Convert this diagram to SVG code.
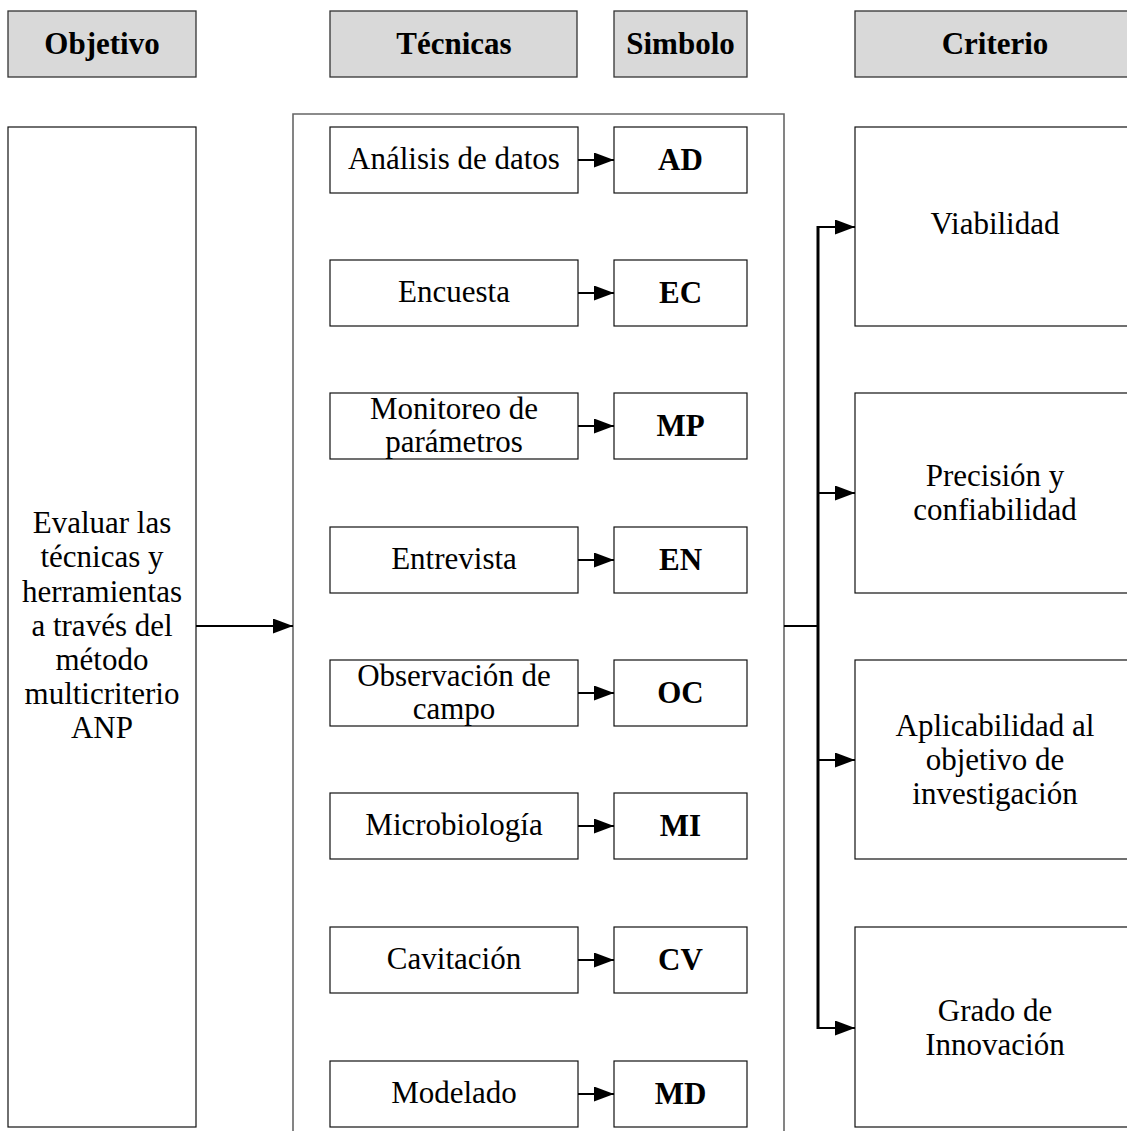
<svg xmlns="http://www.w3.org/2000/svg" width="1127" height="1131" viewBox="0 0 1127 1131">
  <style>
    .hdr { fill: #d9d9d9; stroke: #333; stroke-width: 1.3; }
    .box { fill: #ffffff; stroke: #111; stroke-width: 1.2; }
    .frame { fill: none; stroke: #666; stroke-width: 1.6; }
    text { font-family: "Liberation Serif", "Times New Roman", serif; font-size: 31px; fill: #000; text-anchor: middle; }
    .b { font-weight: bold; }
    .link { fill: none; stroke: #000; stroke-width: 2.2; }
    .bus { fill: none; stroke: #000; stroke-width: 3; }
  </style>
  <defs>
    <marker id="arrow" markerUnits="userSpaceOnUse" markerWidth="21" markerHeight="15" refX="20" refY="7.5" orient="auto">
      <path d="M0,0 L20,7.5 L0,15 Z" fill="#000"/>
    </marker>
  </defs>
  <rect width="1127" height="1131" fill="#fff"/>

  <!-- column headers -->
  <g id="hdr-objetivo"><rect class="hdr" x="8" y="11" width="188" height="66"/><text class="b" x="102" y="54">Objetivo</text></g>
  <g id="hdr-tecnicas"><rect class="hdr" x="330" y="11" width="247" height="66"/><text class="b" x="454" y="54">Técnicas</text></g>
  <g id="hdr-simbolo"><rect class="hdr" x="614" y="11" width="133" height="66"/><text class="b" x="680.5" y="54">Simbolo</text></g>
  <g id="hdr-criterio"><rect class="hdr" x="855" y="11" width="285" height="66"/><text class="b" x="995" y="54">Criterio</text></g>

  <!-- objective -->
  <g id="objetivo">
    <rect class="box" x="8" y="127" width="188" height="1000"/>
    <text x="102" y="533">Evaluar las</text>
    <text x="102" y="567">técnicas y</text>
    <text x="102" y="602">herramientas</text>
    <text x="102" y="636">a través del</text>
    <text x="102" y="670">método</text>
    <text x="102" y="704">multicriterio</text>
    <text x="102" y="738">ANP</text>
  </g>

  <!-- techniques frame -->
  <g id="tecnicas-frame"><path class="frame" d="M293,1135 V114 H784 V1135"/></g>

  <!-- techniques -->
  <g id="t-ad"><rect class="box" x="330" y="127" width="248" height="66"/><text x="454" y="169">Análisis de datos</text></g>
  <g id="t-ec"><rect class="box" x="330" y="260" width="248" height="66"/><text x="454" y="302">Encuesta</text></g>
  <g id="t-mp"><rect class="box" x="330" y="393" width="248" height="66"/><text x="454" y="419">Monitoreo de</text><text x="454" y="452">parámetros</text></g>
  <g id="t-en"><rect class="box" x="330" y="527" width="248" height="66"/><text x="454" y="569">Entrevista</text></g>
  <g id="t-oc"><rect class="box" x="330" y="660" width="248" height="66"/><text x="454" y="686">Observación de</text><text x="454" y="719">campo</text></g>
  <g id="t-mi"><rect class="box" x="330" y="793" width="248" height="66"/><text x="454" y="835">Microbiología</text></g>
  <g id="t-cv"><rect class="box" x="330" y="927" width="248" height="66"/><text x="454" y="969">Cavitación</text></g>
  <g id="t-md"><rect class="box" x="330" y="1061" width="248" height="66"/><text x="454" y="1103">Modelado</text></g>

  <!-- symbols -->
  <g id="s-ad"><rect class="box" x="614" y="127" width="133" height="66"/><text class="b" x="680.5" y="170">AD</text></g>
  <g id="s-ec"><rect class="box" x="614" y="260" width="133" height="66"/><text class="b" x="680.5" y="303">EC</text></g>
  <g id="s-mp"><rect class="box" x="614" y="393" width="133" height="66"/><text class="b" x="680.5" y="436">MP</text></g>
  <g id="s-en"><rect class="box" x="614" y="527" width="133" height="66"/><text class="b" x="680.5" y="570">EN</text></g>
  <g id="s-oc"><rect class="box" x="614" y="660" width="133" height="66"/><text class="b" x="680.5" y="703">OC</text></g>
  <g id="s-mi"><rect class="box" x="614" y="793" width="133" height="66"/><text class="b" x="680.5" y="836">MI</text></g>
  <g id="s-cv"><rect class="box" x="614" y="927" width="133" height="66"/><text class="b" x="680.5" y="970">CV</text></g>
  <g id="s-md"><rect class="box" x="614" y="1061" width="133" height="66"/><text class="b" x="680.5" y="1104">MD</text></g>

  <!-- criteria -->
  <g id="c-viabilidad"><rect class="box" x="855" y="127" width="285" height="199"/><text x="995" y="234">Viabilidad</text></g>
  <g id="c-precision"><rect class="box" x="855" y="393" width="285" height="200"/><text x="995" y="486">Precisión y</text><text x="995" y="520">confiabilidad</text></g>
  <g id="c-aplicabilidad"><rect class="box" x="855" y="660" width="285" height="199"/><text x="995" y="736">Aplicabilidad al</text><text x="995" y="770">objetivo de</text><text x="995" y="804">investigación</text></g>
  <g id="c-innovacion"><rect class="box" x="855" y="927" width="285" height="200"/><text x="995" y="1021">Grado de</text><text x="995" y="1055">Innovación</text></g>

  <!-- connectors -->
  <g id="connectors">
    <line class="link" x1="196" y1="626" x2="293" y2="626" marker-end="url(#arrow)"/>
    <line class="link" x1="578" y1="160" x2="614" y2="160" marker-end="url(#arrow)"/>
    <line class="link" x1="578" y1="293" x2="614" y2="293" marker-end="url(#arrow)"/>
    <line class="link" x1="578" y1="426" x2="614" y2="426" marker-end="url(#arrow)"/>
    <line class="link" x1="578" y1="560" x2="614" y2="560" marker-end="url(#arrow)"/>
    <line class="link" x1="578" y1="693" x2="614" y2="693" marker-end="url(#arrow)"/>
    <line class="link" x1="578" y1="826" x2="614" y2="826" marker-end="url(#arrow)"/>
    <line class="link" x1="578" y1="960" x2="614" y2="960" marker-end="url(#arrow)"/>
    <line class="link" x1="578" y1="1094" x2="614" y2="1094" marker-end="url(#arrow)"/>
    <line class="link" x1="784" y1="626" x2="818" y2="626"/>
    <line class="bus" x1="818" y1="226" x2="818" y2="1029"/>
    <line class="link" x1="818" y1="227" x2="855" y2="227" marker-end="url(#arrow)"/>
    <line class="link" x1="818" y1="493" x2="855" y2="493" marker-end="url(#arrow)"/>
    <line class="link" x1="818" y1="760" x2="855" y2="760" marker-end="url(#arrow)"/>
    <line class="link" x1="818" y1="1028" x2="855" y2="1028" marker-end="url(#arrow)"/>
  </g>
</svg>
